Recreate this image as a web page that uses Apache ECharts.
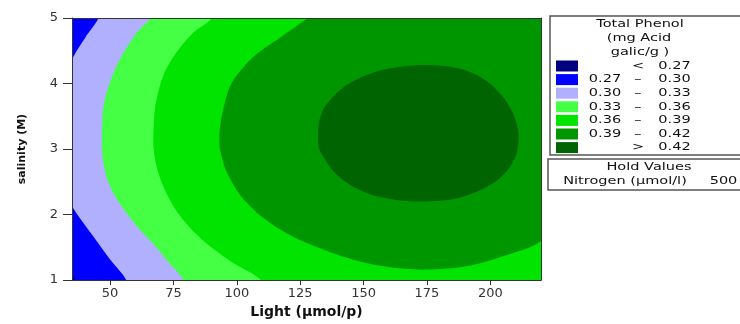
<!DOCTYPE html>
<html>
<head>
<meta charset="utf-8">
<script src="https://cdn.jsdelivr.net/npm/echarts@6/dist/echarts.min.js"></script>
<style>html,body{margin:0;padding:0;background:#fff}#c{width:740px;height:324px}</style>
</head>
<body>
<div id="c"></div>
<script>
// ---- data ----
const lightTicks = [50, 75, 100, 125, 150, 175, 200];
const salinityTicks = [1, 2, 3, 4, 5];
const levels = [0.27, 0.30, 0.33, 0.36, 0.39, 0.42];
const levelColors = ['#000080', '#0000ff', '#b0b0ff', '#44ff44', '#00e400', '#009600', '#006400'];
const holdName = 'Nitrogen (µmol/l)';
const holdValue = 500;

// contour boundaries [Light, salinity]; each encloses the region above its level
const contour027 = [[35, 1.06], [36.3, 1.0], [37, 0.7], [240, 0.7], [240, 5.3], [30, 5.3], [30, 1.1]];
const contour030 = [[45.5, 5.0], [40.2, 4.70], [35, 4.36], [33, 4.0], [32, 3.2], [33, 2.4], [35, 2.13],
  [43.5, 1.66], [50.1, 1.31], [56.4, 1.0], [58, 0.7], [240, 0.7], [240, 5.3], [48, 5.3]];
const contour033 = [[65.8, 5.0], [60.6, 4.78], [54.0, 4.38], [50.1, 4.03], [47.4, 3.64], [46.8, 3.19],
  [47.0, 2.90], [48.8, 2.55], [52.0, 2.28], [56.0, 2.05], [61.0, 1.80], [67.0, 1.56], [72.5, 1.30],
  [78.9, 1.0], [80, 0.7], [240, 0.7], [240, 5.3], [67, 5.3]];
const contour036 = [[90.1, 5.0], [82.9, 4.78], [76.3, 4.48], [71.1, 4.13], [67.8, 3.64], [67.1, 3.19],
  [67.1, 3.04], [68.0, 2.80], [69.8, 2.55], [72.6, 2.30], [76.3, 2.05], [81.5, 1.80], [88.1, 1.56],
  [98.6, 1.26], [109.5, 1.0], [112, 0.7], [240, 0.7], [240, 5.3], [92, 5.3]];
const contour039 = [[128, 5.0], [117, 4.70], [107.8, 4.45], [101.5, 4.20], [97.3, 3.96], [94.6, 3.60],
  [93.3, 3.30], [93.2, 3.04], [94.3, 2.85], [96, 2.65], [101.3, 2.30], [110.4, 1.95], [122.2, 1.66],
  [138, 1.41], [151, 1.26], [162, 1.19], [174.8, 1.16], [190.5, 1.21], [206.3, 1.38], [219.8, 1.59],
  [225, 1.9], [228, 3.2], [225, 4.5], [220.5, 4.96], [217.4, 5.02], [200, 5.4], [170, 5.5], [140, 5.4],
  [130, 5.08]];
const contour042 = [[132.1, 3.15], [132.4, 3.40], [134.3, 3.62], [138, 3.80], [143.5, 3.98], [151.1, 4.13],
  [160, 4.23], [170.8, 4.28], [181, 4.27], [190.5, 4.20], [198.5, 4.04], [204.5, 3.82], [208.5, 3.58],
  [210.6, 3.36], [211.2, 3.15], [210.3, 2.92], [207.6, 2.72], [203.2, 2.54], [197, 2.39], [189, 2.27],
  [180, 2.21], [169.5, 2.20], [160, 2.24], [151.1, 2.33], [144, 2.47], [138.3, 2.65], [134.5, 2.86], [132.5, 3.0]];
const contours = [contour027, contour030, contour033, contour036, contour039, contour042];

// ---- chart ----
const chart = echarts.init(document.getElementById('c'), null, {renderer: 'canvas'});
const axisColor = '#333';

const series = contours.map((pts, i) => ({
  type: 'custom',
  clip: true,
  silent: true,
  data: pts,
  z: 2 + i,
  renderItem: function (params, api) {
    if (params.dataIndex !== 0) return null;
    const cs = params.coordSys;
    return {
      type: 'polygon',
      shape: {points: pts.map(p => api.coord(p)), smooth: 0.3},
      style: {fill: levelColors[i + 1], stroke: null},
      clipPath: {type: 'rect', shape: {x: cs.x, y: cs.y, width: cs.width, height: cs.height}}
    };
  }
}));

const fmt = v => v.toFixed(2);
const legendRows = [];
legendRows.push({a: '', d: '<', b: fmt(levels[0])});
for (let i = 0; i < levels.length - 1; i++) legendRows.push({a: fmt(levels[i]), d: '–', b: fmt(levels[i + 1])});
legendRows.push({a: '', d: '>', b: fmt(levels[levels.length - 1])});

const SX = 1.32;
function txt(str, cx, cy, size, weight) {
  return {
    type: 'text', x: cx, y: cy, scaleX: SX, z: 100,
    style: {text: str, x: 0, y: 0, fill: '#111', font: (weight || 'normal') + ' ' + size + 'px "DejaVu Sans"',
      textAlign: 'center', textVerticalAlign: 'middle', align: 'center', verticalAlign: 'middle'}
  };
}
const graphics = [];
graphics.push({type: 'rect', z: 90, shape: {x: 550, y: 16, width: 200, height: 139},
  style: {fill: '#fff', stroke: '#555', lineWidth: 1.5}});
graphics.push({type: 'rect', z: 90, shape: {x: 548, y: 159, width: 200, height: 31},
  style: {fill: '#fff', stroke: '#555', lineWidth: 1.5}});
graphics.push(txt('Total Phenol', 640, 24, 11));
graphics.push(txt('(mg Acid', 639, 38, 11));
graphics.push(txt('galic/g )', 640, 52, 11));
legendRows.forEach((r, k) => {
  const cy = 66 + k * 13.6;
  graphics.push({type: 'rect', z: 100, shape: {x: 556, y: cy - 5.5, width: 22, height: 11},
    style: {fill: levelColors[k]}});
  if (r.a) graphics.push(txt(r.a, 605, cy, 11));
  graphics.push(txt(r.d, 638, cy, 11));
  graphics.push(txt(r.b, 674.5, cy, 11));
});
graphics.push(txt('Hold Values', 649, 167.5, 11));
graphics.push(txt(holdName, 625, 181, 11));
graphics.push(txt(String(holdValue), 723.5, 181, 11));

chart.setOption({
  animation: false,
  backgroundColor: '#fff',
  grid: {left: 72, right: 199, top: 18, bottom: 37, show: true, backgroundColor: levelColors[0], borderWidth: 0},
  xAxis: [{
    type: 'value', min: 35, max: 220, position: 'bottom', z: 10,
    axisLine: {show: true, onZero: false, lineStyle: {color: axisColor, width: 1}},
    axisTick: {show: true, customValues: lightTicks, length: 5, lineStyle: {color: axisColor}},
    axisLabel: {customValues: lightTicks, fontSize: 13, color: '#333', margin: 7, fontFamily: 'DejaVu Sans'},
    splitLine: {show: false},
    name: 'Light (µmol/p)', nameLocation: 'middle', nameGap: 20,
    nameTextStyle: {fontWeight: 'bold', fontSize: 14, color: '#111', fontFamily: 'DejaVu Sans'}
  }, {
    type: 'value', min: 35, max: 220, position: 'top', z: 10,
    axisLine: {show: true, onZero: false, lineStyle: {color: axisColor, width: 1}},
    axisTick: {show: false}, axisLabel: {show: false}, splitLine: {show: false}
  }],
  yAxis: [{
    type: 'value', min: 1, max: 5, position: 'left', z: 10,
    axisLine: {show: true, onZero: false, lineStyle: {color: axisColor, width: 1}},
    axisTick: {show: true, customValues: salinityTicks, length: 9, lineStyle: {color: axisColor}},
    axisLabel: {customValues: salinityTicks, fontSize: 13, color: '#333', margin: 14, fontFamily: 'DejaVu Sans'},
    splitLine: {show: false},
    name: 'salinity (M)', nameLocation: 'middle', nameGap: 44, nameRotate: 90,
    nameTextStyle: {fontWeight: 'bold', fontSize: 11, color: '#111', fontFamily: 'DejaVu Sans'}
  }, {
    type: 'value', min: 1, max: 5, position: 'right', z: 10,
    axisLine: {show: true, onZero: false, lineStyle: {color: axisColor, width: 1}},
    axisTick: {show: false}, axisLabel: {show: false}, splitLine: {show: false}
  }],
  series: series,
  graphic: graphics
});
</script>
</body>
</html>
